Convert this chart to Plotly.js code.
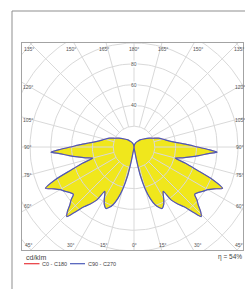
<!DOCTYPE html>
<html>
<head>
<meta charset="utf-8">
<script src="https://cdn.plot.ly/plotly-3.0.1.min.js"></script>
<style>html,body{margin:0;padding:0;background:#fff;}#chart{width:245px;height:289px;}</style>
</head>
<body>
<div id="chart"></div>
<script>
// Photometric data: gamma angle (deg from nadir) and luminous intensity (cd/klm)
const gamma = [0,5,9,11,12.5,15,17.5,20,22.5,24.5,27.5,30,32.5,33.5,35,37.5,40,42.5,44,46,48,50,52,55,57.5,60,62.5,65,67.5,70,72.5,75,77.5,80,82.5,85,86.5,88,90,92.5,95,97.5,100,105,110,115,120,130,140,150,160,170,180];
const intensityC0C180 = [0,1,3,14,28,42,52,59,63,65,62,57,52,51,62,69,75,86,93,89,83,79,74,76,79,82,87,94,82,64,52,41,48,55,63,72,80,72,61,52,44,38,34,29,25,20,17,12,9,6,4,2,0];
const intensityC90C270 = [0,1,3,14,28,42,52,59,63,65,62,57,52,51,62,69,75,86,93,89,83,79,74,76,79,82,87,94,82,64,52,41,48,55,63,72,80,72,61,52,44,38,34,29,25,20,17,12,9,6,4,2,0];
const seriesNames = ['C0 - C180', 'C90 - C270'];
const radialTicks = [40, 60, 80];
const gridRadii = [20, 40, 60, 80, 100, 120, 140, 160];
const spokeAngles = [0,15,30,45,60,75,90,105,120,135,150,165,180,195,210,225,240,255,270,285,300,315,330,345];
const topLabels = ['135°','150°','165°','180°','165°','150°','135°'];
const bottomLabels = ['45°','30°','15°','0°','15°','30°','45°'];
const sideLabels = ['120°','105°','90°','75°','60°'];
const efficiency = 'η = 54%';
const unitLabel = 'cd/klm';

const d2r = Math.PI / 180;
function curve(vals) {
  const x = [], y = [];
  for (let i = 0; i < gamma.length; i++) { x.push(vals[i] * Math.sin(gamma[i]*d2r)); y.push(-vals[i] * Math.cos(gamma[i]*d2r)); }
  for (let i = gamma.length - 1; i >= 0; i--) { x.push(-vals[i] * Math.sin(gamma[i]*d2r)); y.push(-vals[i] * Math.cos(gamma[i]*d2r)); }
  return {x, y};
}
const cFill = curve(intensityC90C270);
const cRed = curve(intensityC0C180);
const cBlue = curve(intensityC90C270);

const gridColor = '#d9d9d9';
const traces = [];
traces.push({x: cFill.x, y: cFill.y, mode: 'lines', fill: 'toself', fillcolor: '#f0e71c', line: {width: 0, shape: 'spline', smoothing: 0.6}, hoverinfo: 'skip', showlegend: false});
// grid circles
gridRadii.forEach(r => {
  const x = [], y = [];
  for (let a = 0; a <= 360; a += 2) { x.push(r*Math.cos(a*d2r)); y.push(r*Math.sin(a*d2r)); }
  traces.push({x, y, mode: 'lines', line: {color: gridColor, width: 1}, hoverinfo: 'skip', showlegend: false});
});
// spokes
spokeAngles.forEach(a => {
  traces.push({x: [20*Math.sin(a*d2r), 220*Math.sin(a*d2r)], y: [-20*Math.cos(a*d2r), -220*Math.cos(a*d2r)], mode: 'lines', line: {color: gridColor, width: 1}, hoverinfo: 'skip', showlegend: false});
});
traces.push({x: cRed.x, y: cRed.y, mode: 'lines', name: seriesNames[0], line: {color: '#e8373c', width: 0.5, shape: 'spline', smoothing: 0.6}, showlegend: false});
traces.push({x: cBlue.x, y: cBlue.y, mode: 'lines', name: seriesNames[1], line: {color: '#4a5ab8', width: 1.2, shape: 'spline', smoothing: 0.6}, showlegend: false});

const lblFont = {family: 'Liberation Sans, Arial, sans-serif', size: 5, color: '#555'};
const annotations = [];
const colX = [-101, -60.6, -28.8, 0, 27.9, 61.5, 101];
topLabels.forEach((t, i) => annotations.push({x: colX[i], y: 94.2, text: t, showarrow: false, font: lblFont, xref: 'x', yref: 'y'}));
bottomLabels.forEach((t, i) => annotations.push({x: colX[i], y: -94.2, text: t, showarrow: false, font: lblFont, xref: 'x', yref: 'y'}));
const rowY = [57.7, 26, 0, -26.9, -56.7];
sideLabels.forEach((t, i) => {
  annotations.push({x: -101.9, y: rowY[i], text: t, showarrow: false, font: lblFont, xref: 'x', yref: 'y'});
  annotations.push({x: 101.9, y: rowY[i], text: t, showarrow: false, font: lblFont, xref: 'x', yref: 'y'});
});
radialTicks.forEach(r => annotations.push({x: 0, y: r, text: String(r), showarrow: false, font: lblFont, xref: 'x', yref: 'y', bgcolor: '#fff', borderpad: 0}));
// footer
function px(p) { return (p - 22) / 221; }
function py(p) { return (250 - p) / 207; }
annotations.push({xref: 'paper', yref: 'paper', x: px(24), y: py(257), xanchor: 'left', yanchor: 'middle', text: unitLabel, showarrow: false, font: {family: 'Liberation Sans, Arial, sans-serif', size: 7, color: '#444'}});
annotations.push({xref: 'paper', yref: 'paper', x: px(243.5), y: py(257), xanchor: 'right', yanchor: 'middle', text: efficiency, showarrow: false, font: {family: 'Liberation Sans, Arial, sans-serif', size: 6.5, color: '#444'}});
annotations.push({xref: 'paper', yref: 'paper', x: px(40), y: py(264), xanchor: 'left', yanchor: 'middle', text: seriesNames[0], showarrow: false, font: {family: 'Liberation Sans, Arial, sans-serif', size: 5.5, color: '#444'}});
annotations.push({xref: 'paper', yref: 'paper', x: px(85.5), y: py(264), xanchor: 'left', yanchor: 'middle', text: seriesNames[1], showarrow: false, font: {family: 'Liberation Sans, Arial, sans-serif', size: 5.5, color: '#444'}});

const shapes = [
  {type: 'line', xref: 'paper', yref: 'paper', x0: px(24), x1: px(39.5), y0: py(263.7), y1: py(263.7), line: {color: '#e8373c', width: 1.2}},
  {type: 'line', xref: 'paper', yref: 'paper', x0: px(70), x1: px(85), y0: py(263.7), y1: py(263.7), line: {color: '#4a5ab8', width: 1.2}},
  {type: 'line', xref: 'paper', yref: 'paper', x0: px(12), x1: px(12), y0: py(289), y1: py(11), line: {color: '#8f8f8f', width: 1}},
  {type: 'line', xref: 'paper', yref: 'paper', x0: px(12), x1: px(246), y0: py(11), y1: py(11), line: {color: '#8f8f8f', width: 1}}
];

const layout = {
  width: 245, height: 289,
  margin: {l: 22, r: 2, t: 43, b: 39, pad: 0},
  paper_bgcolor: '#fff', plot_bgcolor: '#fff',
  showlegend: false,
  xaxis: {range: [-107.7, 104.8], showgrid: false, zeroline: false, showticklabels: false, ticks: '', showline: true, mirror: true, linecolor: '#a3a3a3', linewidth: 1, fixedrange: true},
  yaxis: {range: [-99.0, 100.0], showgrid: false, zeroline: false, showticklabels: false, ticks: '', showline: true, mirror: true, linecolor: '#a3a3a3', linewidth: 1, fixedrange: true},
  annotations, shapes
};
Plotly.newPlot('chart', traces, layout, {displayModeBar: false, staticPlot: true});
</script>
</body>
</html>
